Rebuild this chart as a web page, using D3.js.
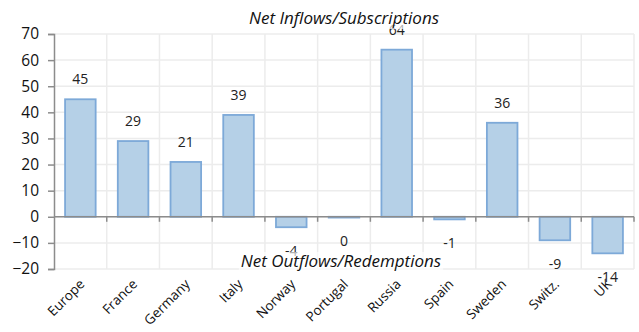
<!DOCTYPE html>
<html>
<head>
<meta charset="utf-8">
<script src="https://cdn.jsdelivr.net/npm/d3@7"></script>
<style>
  html, body { margin: 0; padding: 0; background: #fff; }
  svg text { font-family: "Open Sans", "Noto Sans", sans-serif; }
</style>
</head>
<body>
<svg id="chart" width="639" height="332"></svg>
<script>
// Net fund flows by country
const categories = ["Europe", "France", "Germany", "Italy", "Norway", "Portugal", "Russia", "Spain", "Sweden", "Switz.", "UK"];
const values = [45, 29, 21, 39, -4, 0, 64, -1, 36, -9, -14];
const yTicks = [-20, -10, 0, 10, 20, 30, 40, 50, 60, 70];

const svg = d3.select("#chart");
const margin = { left: 54, right: 5, top: 34, bottom: 62 };
const W = 639, H = 332;

const x = d3.scaleBand().domain(categories).range([margin.left, W - margin.right]).paddingInner(0.42).paddingOuter(0.21);
const y = d3.scaleLinear().domain([-20, 70]).range([H - margin.bottom - 1, margin.top]);
const cellW = (W - margin.right - margin.left) / categories.length;
const cx = c => x(c) + x.bandwidth() / 2;

// gridlines
const grid = svg.append("g");
grid.selectAll("line.h").data(yTicks).join("line")
  .attr("x1", margin.left).attr("x2", W - margin.right)
  .attr("y1", d => y(d)).attr("y2", d => y(d))
  .attr("stroke", "#ececec").attr("stroke-width", 1.5);
grid.selectAll("line.v").data(d3.range(1, categories.length + 1)).join("line")
  .attr("x1", i => margin.left + i * cellW).attr("x2", i => margin.left + i * cellW)
  .attr("y1", y(70)).attr("y2", y(-20))
  .attr("stroke", "#ececec").attr("stroke-width", 1.5);

// bars
svg.append("g").selectAll("rect").data(values).join("rect")
  .attr("x", (d, i) => x(categories[i]))
  .attr("width", x.bandwidth())
  .attr("y", d => y(Math.max(0, d)))
  .attr("height", d => Math.max(0.8, Math.abs(y(d) - y(0))))
  .attr("fill", "#b5d0e7")
  .attr("stroke", "#7da9d8")
  .attr("stroke-width", 1.8);

// value labels
svg.append("g").selectAll("text").data(values).join("text")
  .attr("x", (d, i) => cx(categories[i]))
  .attr("y", d => d > 0 ? y(d) - 15 : y(d) + 29)
  .attr("text-anchor", "middle")
  .attr("font-size", 14)
  .attr("fill", "#222")
  .text(d => d);

// axes
const yAxis = d3.axisLeft(y).tickValues(yTicks).tickSize(6).tickPadding(9);
const gy = svg.append("g").attr("transform", `translate(${margin.left},0)`).call(yAxis);
gy.select(".domain").attr("stroke", "#8c8c8c").attr("stroke-width", 1.5);
gy.selectAll(".tick line").attr("stroke", "#8c8c8c").attr("stroke-width", 1.5);
gy.selectAll(".tick text").attr("font-size", 15.5).attr("fill", "#111")
  .style("font-family", "'Open Sans', sans-serif");

// zero line with category tick marks
const z = svg.append("g");
z.append("line").attr("x1", margin.left).attr("x2", W - margin.right)
  .attr("y1", y(0)).attr("y2", y(0)).attr("stroke", "#8c8c8c").attr("stroke-width", 1.5);
z.selectAll("line.t").data(d3.range(1, categories.length + 1)).join("line")
  .attr("x1", i => margin.left + i * cellW).attr("x2", i => margin.left + i * cellW)
  .attr("y1", y(0)).attr("y2", y(0) + 5)
  .attr("stroke", "#8c8c8c").attr("stroke-width", 1.5);

// category labels
svg.append("g").selectAll("text").data(categories).join("text")
  .attr("transform", d => `translate(${cx(d) + 5},${y(-20) + 16}) rotate(-45)`)
  .attr("text-anchor", "end")
  .attr("font-size", 13.5)
  .attr("fill", "#111")
  .text(d => d);

// section captions
function caption(text, px, py) {
  const g = svg.append("g");
  const t = g.append("text").attr("x", px).attr("y", py)
    .attr("text-anchor", "middle").attr("font-size", 17).attr("font-style", "italic")
    .attr("fill", "#111").text(text);
  const b = t.node().getBBox();
  g.insert("rect", "text").attr("x", b.x - 2).attr("y", b.y + 3).attr("width", b.width + 4).attr("height", b.height - 3)
    .attr("fill", "#fff").attr("opacity", 0.65);
}
caption("Net Inflows/Subscriptions", 344, 24);
caption("Net Outflows/Redemptions", 341, 267);
</script>
</body>
</html>
